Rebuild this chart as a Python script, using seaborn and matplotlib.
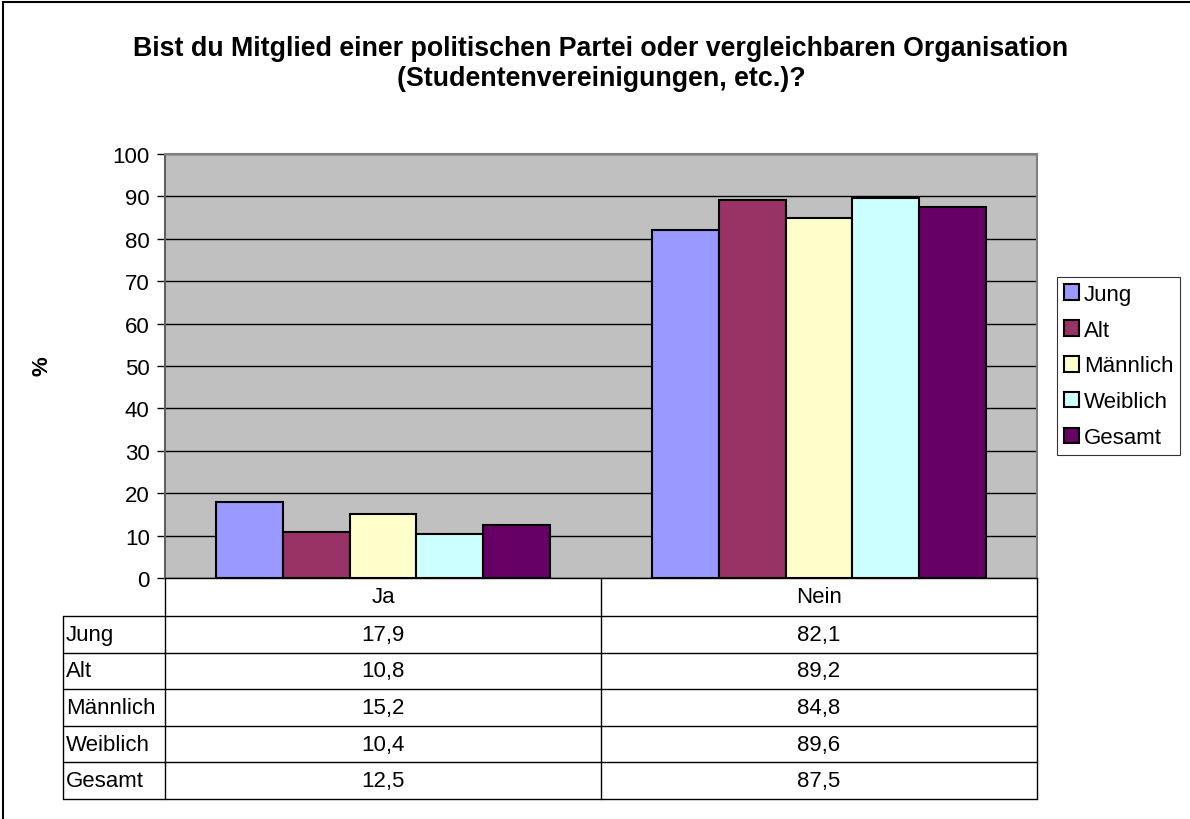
import numpy as np
import pandas as pd
import seaborn as sns
import matplotlib.pyplot as plt
from matplotlib.patches import Patch, Rectangle
from matplotlib.transforms import blended_transform_factory

# Daten
kategorien = ['Ja', 'Nein']
gruppen = ['Jung', 'Alt', 'Männlich', 'Weiblich', 'Gesamt']
jung = [17.9, 82.1]
alt = [10.8, 89.2]
maennlich = [15.2, 84.8]
weiblich = [10.4, 89.6]
gesamt = [12.5, 87.5]
farben = ['#9999FF', '#993366', '#FFFFCC', '#CCFFFF', '#660066']
titel = 'Bist du Mitglied einer politischen Partei oder vergleichbaren Organisation\n(Studentenvereinigungen, etc.)?'

werte = [jung, alt, maennlich, weiblich, gesamt]
df = pd.DataFrame([(k, g, w[i]) for g, w in zip(gruppen, werte) for i, k in enumerate(kategorien)],
                  columns=['Antwort', 'Gruppe', 'Prozent'])

sns.set_style('white')
plt.rcParams['font.family'] = ['Liberation Sans', 'DejaVu Sans']
plt.rcParams['text.color'] = 'black'
plt.rcParams['ytick.color'] = 'black'
plt.rcParams['axes.labelcolor'] = 'black'

FS = 16
W, H = 1190, 820
fig = plt.figure(figsize=(W / 100, H / 100), dpi=100)
L, R, T, B = 165, 1037, 155, 579
ax = fig.add_axes([L / W, 1 - B / H, (R - L) / W, (B - T) / H])
ax.set_facecolor('#C0C0C0')

sns.barplot(data=df, x='Antwort', y='Prozent', hue='Gruppe', hue_order=gruppen,
            palette=farben, saturation=1, width=0.764, edgecolor='black',
            linewidth=1.5, legend=False, ax=ax, zorder=3)

ax.set_xlim(-0.5, 1.5)
ax.set_ylim(0, 100)
ax.set_yticks(range(0, 101, 10))
ax.set_xticks([])
ax.set_xlabel('')
ax.set_ylabel('')
ax.tick_params(axis='y', labelsize=FS, length=6, width=1, colors='black', direction='out', left=True, pad=5)
ax.yaxis.grid(True, color='black', linewidth=1)
ax.set_axisbelow(True)
for s in ['top', 'right']:
    ax.spines[s].set_color('#808080')
    ax.spines[s].set_linewidth(1.5)
ax.spines['left'].set_color('#606060')
ax.spines['left'].set_linewidth(1.5)
ax.spines['bottom'].set_color('black')
ax.spines['bottom'].set_linewidth(1)

fig.text(42 / W, 1 - 366 / H, '%', rotation=90, ha='center', va='center', fontsize=FS, fontweight='bold')
fig.text(0.505, 1 - 64 / H, titel, ha='center', va='center', fontsize=19.3, fontweight='bold', linespacing=1.2)

# Datentabelle unter der Achse
tr = blended_transform_factory(ax.transData, ax.transAxes)
ph = B - T
kopf = 38 / ph
zeile = 36.6 / ph
links = -0.5 - 102 / ((R - L) / 2)
y_kopf = -kopf
y_ende = -kopf - zeile * len(gruppen)
line_kw = dict(transform=tr, color='black', linewidth=1, clip_on=False)
for x in [-0.5, 0.5, 1.5]:
    ax.plot([x, x], [0, y_ende], **line_kw)
ax.plot([links, links], [y_kopf, y_ende], **line_kw)
for i in range(len(gruppen) + 1):
    y = y_kopf - i * zeile
    ax.plot([links, 1.5], [y, y], **line_kw)
for j, k in enumerate(kategorien):
    ax.text(j, -kopf / 2, k, transform=tr, ha='center', va='center', fontsize=FS)
for i, (g, w) in enumerate(zip(gruppen, werte)):
    yc = y_kopf - (i + 0.5) * zeile
    ax.text(links + 0.007, yc, g, transform=tr, ha='left', va='center', fontsize=FS)
    for j, v in enumerate(w):
        ax.text(j, yc, f'{v:.1f}'.replace('.', ','), transform=tr, ha='center', va='center', fontsize=FS)

handles = [Patch(facecolor=c, edgecolor='black', linewidth=1.5) for c in farben]
leg = fig.legend(handles, gruppen, loc='center left', bbox_to_anchor=(1057 / W, 1 - 367 / H),
                 fontsize=FS, frameon=True, fancybox=False, edgecolor='black',
                 handlelength=0.7, handleheight=0.7, handletextpad=0.2,
                 labelspacing=0.67, borderpad=0.3, borderaxespad=0)
leg.get_frame().set_linewidth(0.8)

# Rahmen (nur oben und links sichtbar)
fig.patches.append(Rectangle((3 / W, -0.05), 1.1, 1 - 3 / H + 0.05, transform=fig.transFigure,
                             fill=False, edgecolor='black', linewidth=1.5))

fig.savefig('out.png', dpi=100)
